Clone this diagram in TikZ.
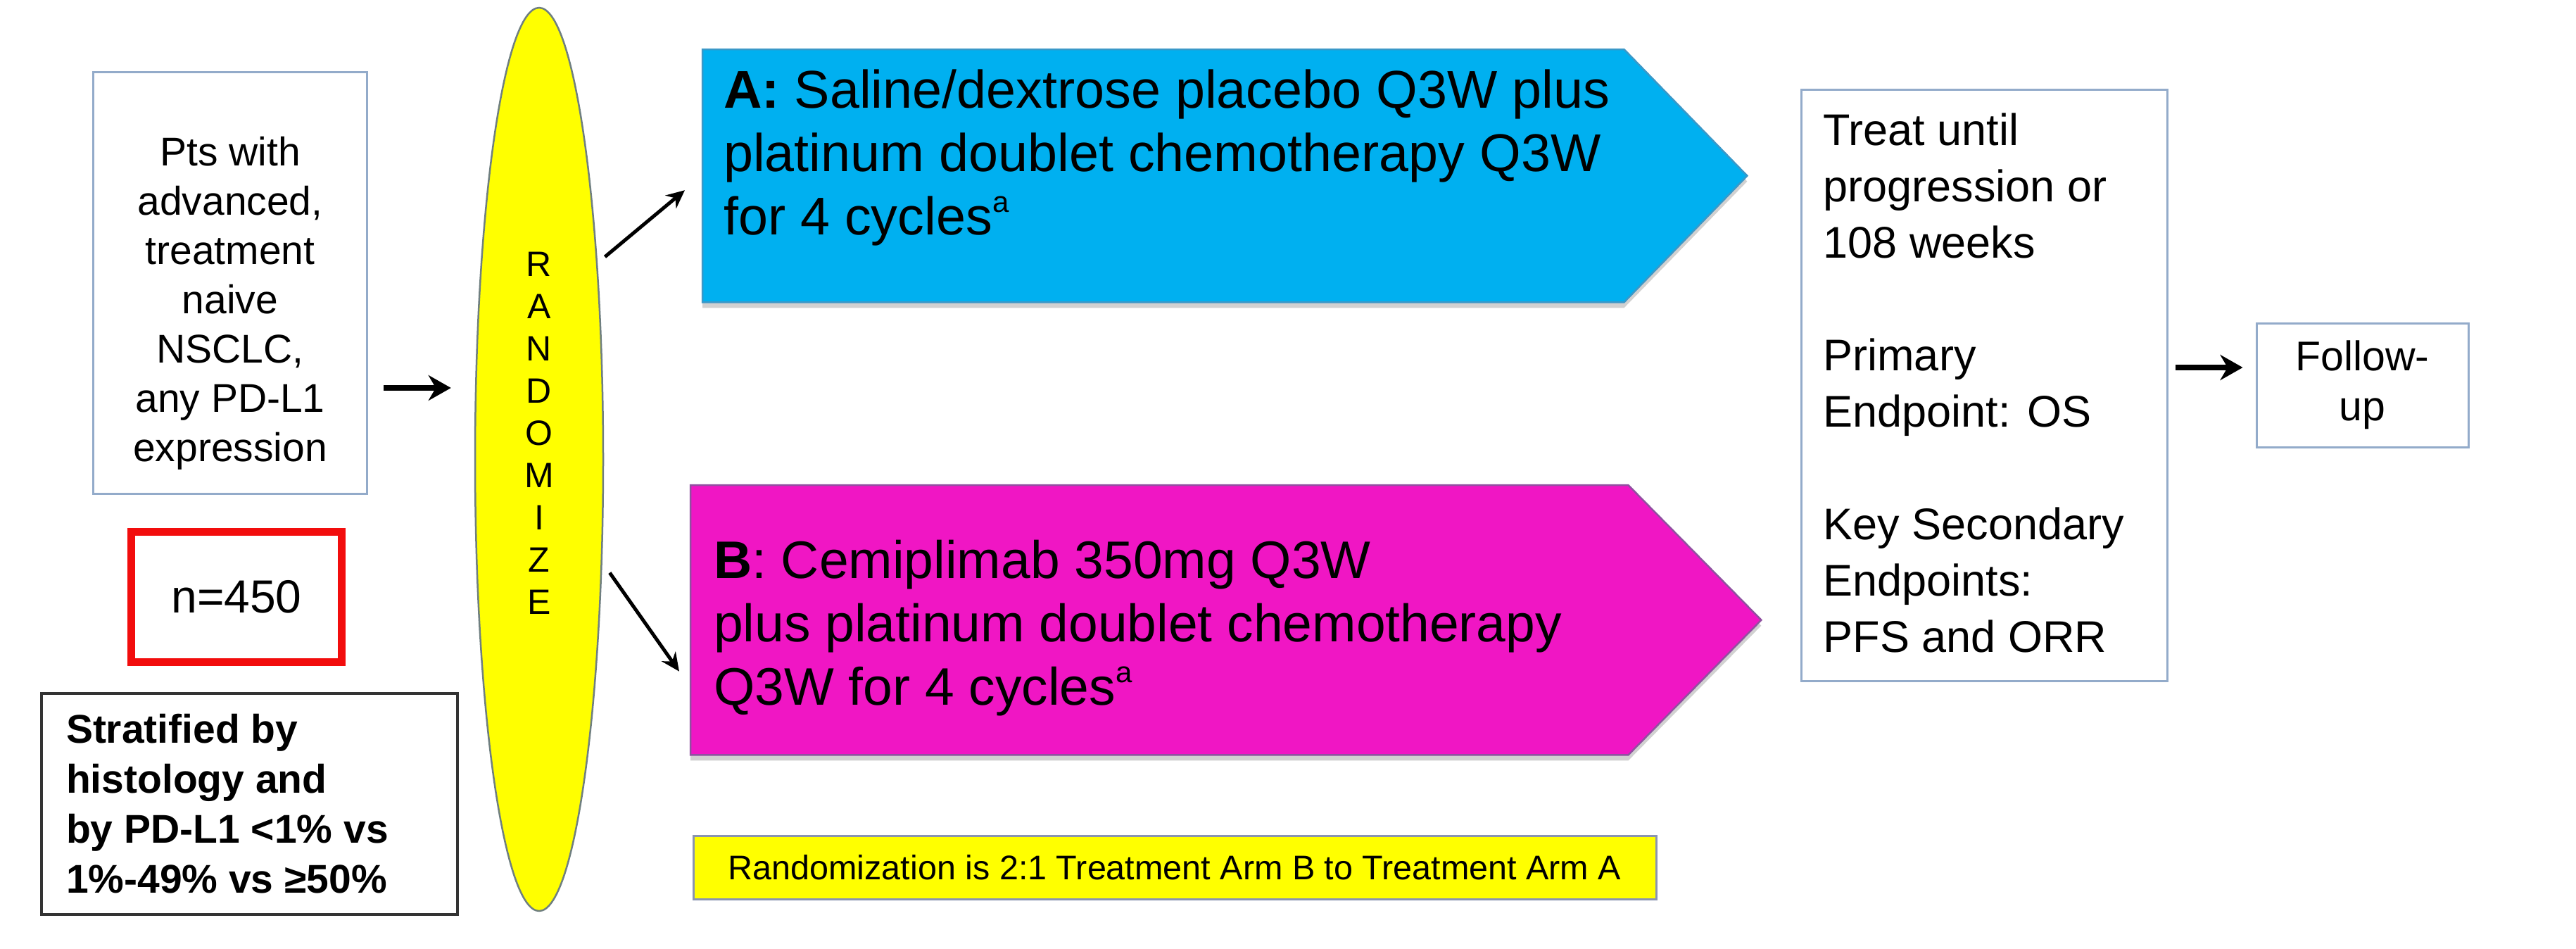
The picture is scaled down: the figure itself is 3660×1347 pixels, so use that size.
\documentclass[tikz,border=0pt]{standalone}
\usepackage{fontspec}
\setmainfont{Liberation Sans}
\usetikzlibrary{arrows.meta,shapes.geometric,backgrounds,calc}
\definecolor{boxblue}{HTML}{93ABCA}
\definecolor{armAcol}{HTML}{00B0F0}
\definecolor{armAedge}{HTML}{3A98C8}
\definecolor{armBcol}{HTML}{F016C4}
\definecolor{armBedge}{HTML}{9050A0}
\definecolor{yel}{HTML}{FFFF00}
\definecolor{elledge}{HTML}{6F7F80}
\definecolor{stratedge}{HTML}{333333}
\definecolor{notedge}{HTML}{8A94B0}
\definecolor{redbox}{HTML}{F20D0D}
\setlength{\parskip}{0pt}
\newcommand{\supa}{\raisebox{0.42em}{\fontsize{42}{42}\selectfont a}}
\begin{document}
\begin{tikzpicture}[x=1pt,y=-1pt,
  box/.style={draw=boxblue,line width=3pt,inner sep=0pt,fill=white},
  arr/.style={-{Stealth[length=32pt,width=36pt]},line width=8pt},
  darr/.style={-{Stealth[length=26pt,width=24pt]},line width=5pt},
  armshadow/.style={fill=black!40,opacity=.45,transform canvas={yshift=-8pt}}
]
\useasboundingbox (0,0) rectangle (3660,1347);

% left column
\node[box, anchor=north west] (pts) at (131,101) {\parbox[c][599pt][t]{389pt}{\vspace*{84pt}\centering\fontsize{57}{70}\selectfont\strut Pts with\\advanced,\\treatment\\naive\\NSCLC,\\any PD-L1\\expression}};

\node[draw=redbox, line width=11pt, minimum width=299pt, minimum height=185pt, inner sep=0pt, font=\fontsize{66}{70}\selectfont] (n) at (336,848) {n=450};

\node[draw=stratedge, line width=4pt, inner sep=0pt, anchor=north west, fill=white] (strat) at (57,983) {\parbox[c][314pt][t]{591pt}{\vspace*{21pt}\raggedright\leftskip=35pt\fontsize{57}{71}\selectfont\bfseries\strut Stratified by\\histology and\\by PD-L1 <1\% vs\\1\%-49\% vs ≥50\%}};

% randomize ellipse
\node[ellipse, draw=elledge, line width=2.5pt, fill=yel, minimum width=182pt, minimum height=1283pt, inner sep=0pt] (ell) at (766,652.5) {};
\node[align=center, font=\fontsize{50}{60}\selectfont, inner sep=0pt] (rlab) at (766,615) {R\\A\\N\\D\\O\\M\\I\\Z\\E};

% arms
\node[inner sep=0pt, anchor=north west] (A) at (998,70) {\parbox[c][359pt][t]{1309pt}{\vspace*{20pt}\raggedright\leftskip=30pt\fontsize{75.5}{90}\selectfont\strut\mbox{\textbf{A:} Saline/dextrose placebo Q3W plus}\\\mbox{platinum doublet chemotherapy Q3W}\\for 4 cycles\supa}};

\node[inner sep=0pt, anchor=north west] (B) at (981,689) {\parbox[c][383pt][t]{1332pt}{\vspace*{69pt}\raggedright\leftskip=33pt\fontsize{75}{90}\selectfont\strut\textbf{B}: Cemiplimab 350mg Q3W\\\mbox{plus platinum doublet chemotherapy}\\Q3W for 4 cycles\supa}};

\begin{scope}[on background layer]
  \fill[white] (0,0) rectangle (3660,1347);
  \fill[armshadow] (A.north west) -- (A.north east) -- ($(A.east)+(175,0)$) -- (A.south east) -- (A.south west) -- cycle;
  \fill[armshadow] (B.north west) -- (B.north east) -- ($(B.east)+(189,0)$) -- (B.south east) -- (B.south west) -- cycle;
  \filldraw[fill=armAcol, draw=armAedge, line width=2.5pt] (A.north west) -- (A.north east) -- ($(A.east)+(175,0)$) -- (A.south east) -- (A.south west) -- cycle;
  \filldraw[fill=armBcol, draw=armBedge, line width=2.5pt] (B.north west) -- (B.north east) -- ($(B.east)+(189,0)$) -- (B.south east) -- (B.south west) -- cycle;
\end{scope}

% note
\node[draw=notedge, line width=3pt, fill=yel, minimum width=1368pt, minimum height=90pt, inner sep=0pt, font=\fontsize{48.5}{58}\selectfont] (note) at (1669,1232) {Randomization is 2:1 Treatment Arm B to Treatment Arm A};

% right column
\node[box, anchor=north west] (ep) at (2558,126) {\parbox[c][840pt][t]{520pt}{\vspace*{23pt}\raggedright\leftskip=31pt\fontsize{63}{80}\selectfont\strut Treat until\\progression or\\108 weeks\\[80pt]Primary\\Endpoint: OS\\[80pt]Key Secondary\\Endpoints:\\PFS and ORR}};

\node[box, minimum width=301pt, minimum height=176pt, align=center, font=\fontsize{59}{71}\selectfont] (fu) at (3356.5,547) {Follow-\\up};

% connectors
\coordinate (y1) at (0,551);
\coordinate (y4) at (0,522);
\draw[arr, shorten <=22pt, shorten >=33pt] (pts.east |- y1) -- (ell.west |- y1);
\draw[darr] ([xshift=11pt]ell.74) -- ([shift={(-25,20.5)}]A.west);
\draw[darr] ([xshift=11pt]ell.-61) -- ([shift={(-16,73)}]B.west);
\draw[arr, shorten <=10pt, shorten >=18pt] (ep.east |- y4) -- (fu.west |- y4);
\end{tikzpicture}
\end{document}
